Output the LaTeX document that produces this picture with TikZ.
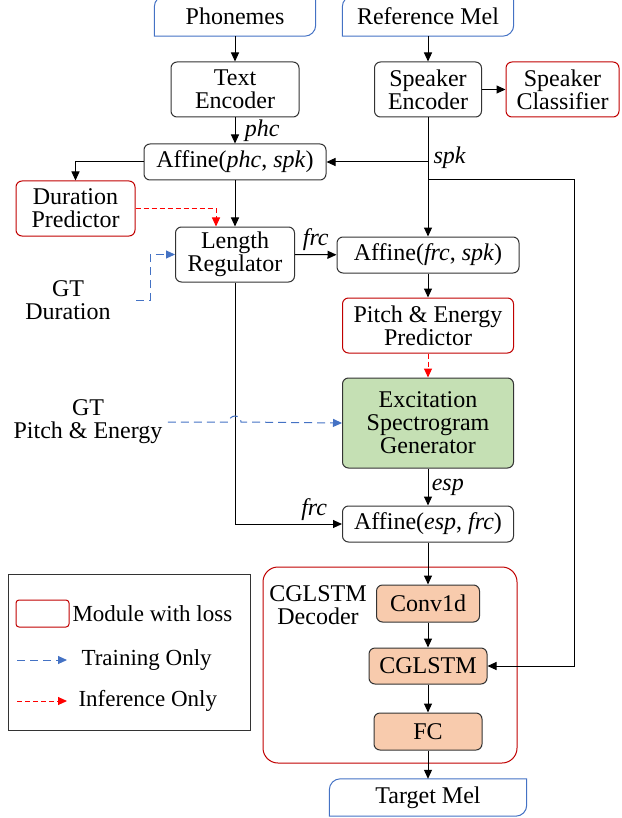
\documentclass[tikz,border=0pt]{standalone}
\usepackage{fontspec}
\setmainfont{LiberationSerif}[
  Extension=.ttf,
  UprightFont=*-Regular,
  BoldFont=*-Bold,
  ItalicFont=*-Italic,
  BoldItalicFont=*-BoldItalic]
\usepackage{tikz}
\usetikzlibrary{
  arrows.meta,
  calc
}
\definecolor{lossred}{HTML}{C00000}
\definecolor{ioblue}{HTML}{4472C4}
\definecolor{esggreen}{HTML}{C5E0B4}
\definecolor{layorange}{HTML}{F8CBAD}
\newcommand{\ioframe}[1]{%
  \draw[ioframestyle] (#1.south west) [rounded corners=11pt] -- (#1.north west)
    [sharp corners] -- (#1.north east) [rounded corners=11pt] -- (#1.south east)
    [sharp corners] -- cycle;}

\begin{document}
\begin{tikzpicture}[
      x=1pt, y=-1pt,
      >={Triangle[length=9pt,width=8pt]},
      every node/.style={font=\rmfamily\fontsize{24}{23}\selectfont},
      box/.style={draw=black!80, line width=1pt, rounded corners=6pt,
                  align=center, inner sep=0pt},
      lossbox/.style={box, draw=lossred},
      layer/.style={box, fill=layorange},
      iobox/.style={align=center, inner sep=0pt},
      ioframestyle/.style={draw=ioblue, line width=1pt},
      flow/.style={->, line width=1pt},
      train/.style={->, ioblue, line width=1pt, dash pattern=on 8pt off 5pt},
      infer/.style={->, red, line width=1pt, dash pattern=on 5pt off 3pt},
      lbl/.style={font=\rmfamily\fontsize{24}{23}\selectfont\itshape},
      legtext/.style={anchor=west, font=\rmfamily\fontsize{23}{23}\selectfont}
  ]
      \useasboundingbox (0,0) rectangle (621,818);

      % Entradas
      \node[iobox, minimum width=161pt, minimum height=40pt] (phon) at (235,16) {Phonemes};
      \ioframe{phon}
      \node[iobox, minimum width=171pt, minimum height=40pt] (refmel) at (428,16) {Reference Mel};
      \ioframe{refmel}

      % Encoders
      \node[box, minimum width=128pt, minimum height=55pt] (txtenc) at (235,89.5) {Text\\Encoder};
      \node[box, minimum width=107pt, minimum height=55pt] (spkenc) at (428,89.5) {Speaker\\Encoder};
      \node[lossbox, minimum width=113pt, minimum height=55pt] (spkcls) at (562.5,89.5) {Speaker\\Classifier};

      % Variance adaptor
      \node[box, minimum width=182pt, minimum height=36pt] (affps) at (235,162) {Affine(\textit{phc}, \textit{spk})};
      \node[lossbox, minimum width=119pt, minimum height=55pt] (durpred) at (75.5,208.5) {Duration\\Predictor};
      \node[box, minimum width=119pt, minimum height=55pt] (lenreg) at (235,254.5) {Length\\Regulator};
      \node[box, minimum width=182pt, minimum height=36pt] (affcs) at (428,255) {Affine(\textit{frc}, \textit{spk})};
      \node[lossbox, minimum width=171pt, minimum height=55pt] (pepred) at (428,325.5) {Pitch \& Energy\\Predictor};
      \node[box, fill=esggreen, minimum width=171pt, minimum height=90pt] (esg) at (428,423) {Excitation\\Spectrogram\\Generator};
      \node[box, minimum width=171pt, minimum height=36pt] (affef) at (428,524) {Affine(\textit{esp}, \textit{frc})};

      \node[align=center] (gtdur) at (68,300) {GT\\Duration};
      \node[align=center] (gtpe) at (88,422) {GT\\Pitch \& Energy};

      % Decoder
      \draw[lossred, line width=1pt, rounded corners=15pt] (263,567) rectangle (517,763);
      \node[align=center] (declbl) at (318,605) {CGLSTM\\Decoder};
      \node[layer, minimum width=103pt, minimum height=37pt] (conv) at (428,603.5) {Conv1d};
      \node[layer, minimum width=118pt, minimum height=36pt] (cglstm) at (428,666) {CGLSTM};
      \node[layer, minimum width=108pt, minimum height=37pt] (fc) at (428,731.5) {FC};
      \node[iobox, minimum width=197pt, minimum height=37pt] (tgtmel) at (428,797.5) {Target Mel};
      \ioframe{tgtmel}

      % Conexoes
      \coordinate (spkj) at (428,162);
      \coordinate (spkb) at (428,180);
      \coordinate (spkr) at (574,180);
      \draw[flow] (phon) -- (txtenc);
      \draw[flow] (refmel) -- (spkenc);
      \draw[flow] (spkenc) -- (spkcls);
      \draw[flow] (txtenc) -- node[lbl, right=6pt] {phc} (affps);
      \draw[flow] (spkenc) -- (affcs);
      \draw[flow] (spkj) -- (affps.east);
      \node[lbl, anchor=west] (spklbl) at (430,158) {spk};
      \draw[flow] (spkb) -- (spkr) |- (cglstm.east);
      \draw[flow] (affps.west) -| (durpred.north);
      \draw[flow] (affps) -- (lenreg);
      \draw[infer] (durpred.east) -| ([xshift=-19pt]lenreg.north);
      \draw[train] ([xshift=22pt]gtdur.east) -- ++(14,0) |- (lenreg.west);
      \draw[flow] (lenreg) -- node[lbl, above] {frc} (affcs);
      \draw[flow] (lenreg.south) |- node[lbl, pos=0.87, above] {frc} (affef.west);
      \draw[train] ([xshift=2pt]gtpe.east) -- (229,422) arc[start angle=180, end angle=360, radius=6] -- (esg.west);
      \draw[flow] (affcs) -- (pepred);
      \draw[infer] (pepred) -- (esg);
      \draw[flow] (esg) -- node[lbl, right] {esp} (affef);
      \draw[flow] (affef) -- (conv);
      \draw[flow] (conv) -- (cglstm);
      \draw[flow] (cglstm) -- (fc);
      \draw[flow] (fc) -- (tgtmel);

      % Legenda
      \draw[black!80, line width=0.8pt] (8,574) rectangle (250,730);
      \draw[lossred, line width=1pt, rounded corners=3pt] (16,600) rectangle (69,627);
      \node[legtext] (lgloss) at (69,614) {Module with loss};
      \coordinate (lgta) at (17,660);
      \coordinate (lgtb) at (67,660);
      \draw[train] (lgta) -- (lgtb);
      \node[legtext] (lgtrain) at (78,660) {Training Only};
      \coordinate (lgia) at (17,701);
      \coordinate (lgib) at (67,701);
      \draw[infer] (lgia) -- (lgib);
      \node[legtext] (lginfer) at (75,701) {Inference Only};
  \end{tikzpicture}
\end{document}
